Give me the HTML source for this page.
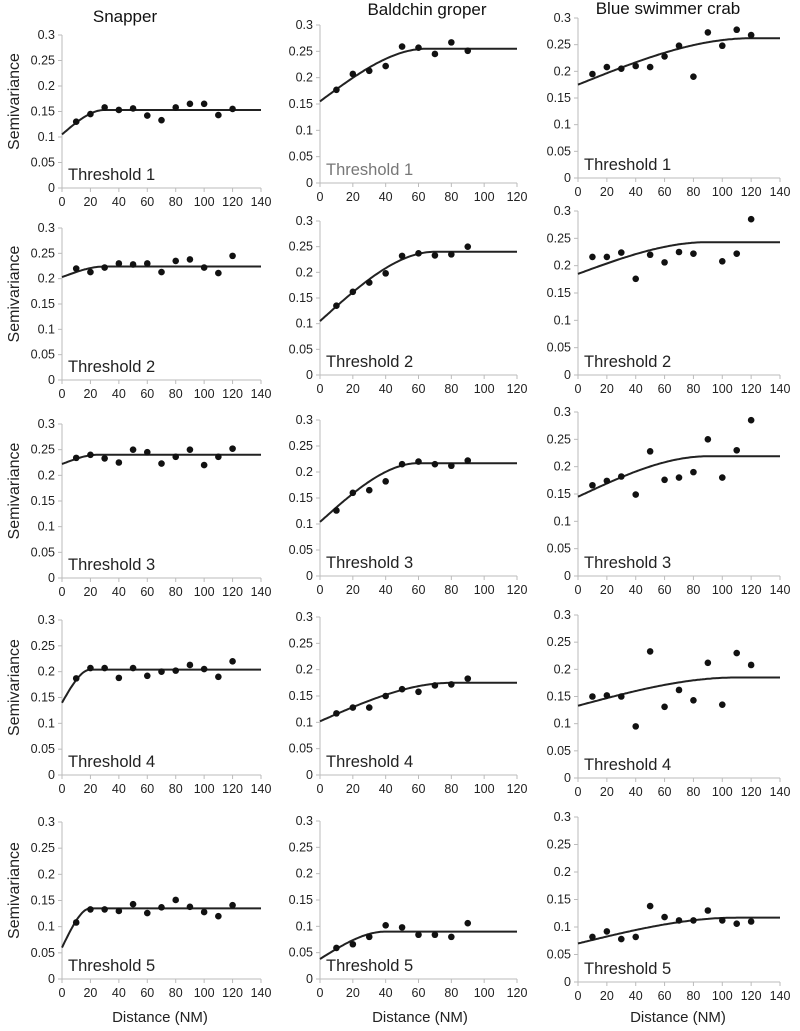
<!DOCTYPE html>
<html><head><meta charset="utf-8">
<style>
html,body{margin:0;padding:0;background:#fff;}
svg{display:block;font-family:"Liberation Sans",sans-serif;}
</style></head>
<body>
<svg id="fig" width="800" height="1031" viewBox="0 0 800 1031" xmlns="http://www.w3.org/2000/svg">
<text x="125" y="22" font-size="17" text-anchor="middle" fill="#111">Snapper</text>
<text x="427" y="15" font-size="17" text-anchor="middle" fill="#111">Baldchin groper</text>
<text x="668" y="14" font-size="17" text-anchor="middle" fill="#111">Blue swimmer crab</text>
<text x="160" y="1022" font-size="15" text-anchor="middle" fill="#222">Distance (NM)</text>
<text x="420" y="1022" font-size="15" text-anchor="middle" fill="#222">Distance (NM)</text>
<text x="678" y="1022" font-size="15" text-anchor="middle" fill="#222">Distance (NM)</text>
</svg>
<script>
// Lag distances
const lags12 = [10,20,30,40,50,60,70,80,90,100,110,120];
const lags9 = [10,20,30,40,50,60,70,80,90];
const lagsCrabT2 = [10,20,30,40,50,60,70,80,100,110,120];
const yTicks = [0,0.05,0.1,0.15,0.2,0.25,0.3];
const yTickLabels = ["0","0.05","0.1","0.15","0.2","0.25","0.3"];
const xTicks140 = [0,20,40,60,80,100,120,140];
const xTicks120 = [0,20,40,60,80,100,120];

// Semivariance values
const snapT1 = [0.13,0.145,0.158,0.153,0.156,0.142,0.133,0.158,0.165,0.165,0.143,0.155];
const snapT2 = [0.22,0.213,0.222,0.23,0.228,0.23,0.213,0.235,0.238,0.222,0.211,0.245];
const snapT3 = [0.234,0.24,0.233,0.225,0.25,0.245,0.223,0.236,0.25,0.22,0.236,0.252];
const snapT4 = [0.187,0.207,0.207,0.188,0.207,0.192,0.2,0.202,0.213,0.205,0.19,0.22];
const snapT5 = [0.108,0.133,0.133,0.13,0.143,0.126,0.137,0.151,0.138,0.128,0.12,0.141];
const baldT1 = [0.177,0.207,0.213,0.222,0.259,0.257,0.245,0.267,0.251];
const baldT2 = [0.135,0.162,0.18,0.198,0.232,0.237,0.233,0.235,0.25];
const baldT3 = [0.126,0.16,0.165,0.182,0.215,0.22,0.215,0.212,0.222];
const baldT4 = [0.117,0.128,0.128,0.15,0.163,0.158,0.17,0.172,0.183];
const baldT5 = [0.059,0.066,0.08,0.102,0.098,0.084,0.084,0.08,0.106];
const crabT1 = [0.195,0.208,0.205,0.21,0.208,0.228,0.248,0.19,0.273,0.248,0.278,0.268];
const crabT2 = [0.216,0.216,0.224,0.176,0.22,0.206,0.225,0.222,0.208,0.222,0.285];
const crabT3 = [0.166,0.174,0.182,0.149,0.228,0.176,0.18,0.19,0.25,0.18,0.23,0.285];
const crabT4 = [0.15,0.152,0.15,0.095,0.233,0.131,0.162,0.143,0.212,0.135,0.23,0.208];
const crabT5 = [0.082,0.092,0.078,0.082,0.138,0.118,0.112,0.112,0.13,0.112,0.106,0.11];

// Spherical model params: nugget, sill, range
const snapModels = [[0.105,0.153,30],[0.203,0.224,30],[0.222,0.24,25],[0.14,0.204,20],[0.06,0.135,20]];
const baldModels = [[0.155,0.255,65],[0.105,0.24,70],[0.104,0.217,60],[0.102,0.175,80],[0.038,0.09,40]];
const crabModels = [[0.175,0.262,120],[0.185,0.243,90],[0.145,0.219,90],[0.133,0.185,110],[0.07,0.117,110]];

const NS="http://www.w3.org/2000/svg";
const svg=document.getElementById('fig');
function mk(tag,attrs,parent){const e=document.createElementNS(NS,tag);for(const k in attrs)e.setAttribute(k,attrs[k]);(parent||svg).appendChild(e);return e;}

const colX=[[62,261],[320,517],[578,780]];
const rowY=[
 [[35,188],[25,183],[18,178]],
 [[228,380],[221,375],[211,375]],
 [[424,578],[420,576],[412,576]],
 [[620,775],[617,775],[615,778]],
 [[822,979],[821,979],[817,982]]
];
const species=[
 {key:'snapper',xMax:140,xt:xTicks140,data:[snapT1,snapT2,snapT3,snapT4,snapT5],lags:[lags12,lags12,lags12,lags12,lags12],models:snapModels},
 {key:'baldchin',xMax:120,xt:xTicks120,data:[baldT1,baldT2,baldT3,baldT4,baldT5],lags:[lags9,lags9,lags9,lags9,lags9],models:baldModels},
 {key:'crab',xMax:140,xt:xTicks140,data:[crabT1,crabT2,crabT3,crabT4,crabT5],lags:[lags12,lagsCrabT2,lags12,lags12,lags12],models:crabModels}
];

species.forEach((sp,c)=>{
 for(let r=0;r<5;r++){
  const [x0,x1]=colX[c]; const [yT,yB]=rowY[r][c];
  const xs=v=>x0+(x1-x0)*v/sp.xMax;
  const ys=v=>yB-(yB-yT)*v/0.3;
  const g=mk('g',{});
  
  
  const ya=mk('line',{x1:x0,y1:yT,x2:x0,y2:yB,stroke:'#bbb','stroke-width':1},g);
  
  
  const xa=mk('line',{x1:x0,y1:yB,x2:x1,y2:yB,stroke:'#bbb','stroke-width':1},g);
  
  
  yTicks.forEach((t,i)=>{
   mk('line',{x1:x0-4,y1:ys(t),x2:x0,y2:ys(t),stroke:'#bbb'},g);
   const tl=mk('text',{x:x0-7,y:ys(t)+4,'font-size':12.5,'text-anchor':'end',fill:'#222'},g);
   tl.textContent=yTickLabels[i];
   
   
  });
  sp.xt.forEach(t=>{
   mk('line',{x1:xs(t),y1:yB,x2:xs(t),y2:yB+4,stroke:'#bbb'},g);
   const tl=mk('text',{x:xs(t),y:yB+18,'font-size':12.5,'text-anchor':'middle',fill:'#222'},g);
   tl.textContent=String(t);
   
   
  });
  const [n,s,a]=sp.models[r];
  let d='';
  for(let h=0;h<=sp.xMax;h+=1){
   const v=h<a? n+(s-n)*(1.5*h/a-0.5*Math.pow(h/a,3)) : s;
   d+=(h?'L':'M')+xs(h).toFixed(1)+','+ys(v).toFixed(1);
  }
  const ml=mk('path',{d:d,fill:'none',stroke:'#222','stroke-width':2},g);
  
  
  sp.data[r].forEach((v,i)=>{
   const p=mk('circle',{cx:xs(sp.lags[r][i]),cy:ys(v),r:3.3,fill:'#111'},g);
   
   
  });
  const th=mk('text',{x:x0+6,y:yB-8,'font-size':16.5,fill:(c===1&&r===0)?'#777':'#222'},g);
  th.textContent='Threshold '+(r+1);
  
  
  if(c===0){
   const yl=mk('text',{x:0,y:0,'font-size':16,'text-anchor':'middle',fill:'#222',transform:'translate(19,'+((yT+yB)/2-10)+') rotate(-90)'},g);
   yl.textContent='Semivariance';
   
   
  }
 }
});
</script>
</body></html>
